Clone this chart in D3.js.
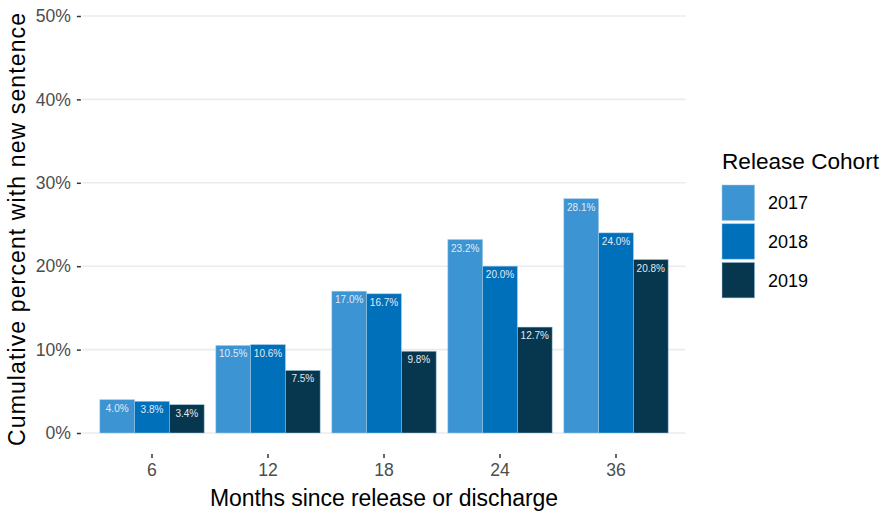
<!DOCTYPE html>
<html>
<head>
<meta charset="utf-8">
<script src="https://cdn.jsdelivr.net/npm/d3@7"></script>
<style>
body{margin:0;background:#fff;}
svg{display:block;font-family:"Liberation Sans",Arial,sans-serif;}
</style>
</head>
<body>
<svg id="chart" width="881" height="512"></svg>
<script>
const months = ["6","12","18","24","36"];
const cohorts = ["2017","2018","2019"];
const values2017 = [4.0,10.5,17.0,23.2,28.1];
const values2018 = [3.8,10.6,16.7,20.0,24.0];
const values2019 = [3.4,7.5,9.8,12.7,20.8];
const yTicks = [0,10,20,30,40,50];
const colors = ["#3D94D3","#0070BA","#07374F"];

const seriesValues = [values2017, values2018, values2019];
const data = [];
months.forEach((m,i)=>cohorts.forEach((c,j)=>data.push({month:m,cohort:c,value:seriesValues[j][i]})));

const svg = d3.select("#chart");
const pLeft = 82.4, pRight = 685.6, pTop = 16, zeroY = 433, panelBottom = 454;

const x = d3.scaleBand().domain(months).range([pLeft,pRight]).paddingInner(0.1).paddingOuter(0.15);
const xs = d3.scaleBand().domain(cohorts).range([0,x.bandwidth()]).padding(0);
const y = d3.scaleLinear().domain([0,50]).range([zeroY,pTop]);
const color = d3.scaleOrdinal().domain(cohorts).range(colors);

// gridlines
svg.append("g").selectAll("line").data(yTicks).join("line")
  .attr("x1",pLeft).attr("x2",pRight)
  .attr("y1",d=>y(d)).attr("y2",d=>y(d))
  .attr("stroke","#EBEBEB").attr("stroke-width",1.6);

// y axis
const yAxis = d3.axisLeft(y).tickValues(yTicks).tickFormat(d=>d+"%").tickSize(4).tickPadding(6);
const ya = svg.append("g").attr("transform",`translate(${pLeft-1.5},0)`).call(yAxis);
ya.select(".domain").remove();
ya.selectAll(".tick line").attr("stroke","#333").attr("stroke-width",1.5);
ya.selectAll(".tick text").attr("fill","#4D4D4D").style("font-size","17.6px").style("font-family","Liberation Sans, Arial, sans-serif");

// x axis
const xAxis = d3.axisBottom(x).tickSize(4).tickPadding(6);
const xa = svg.append("g").attr("transform",`translate(0,${panelBottom})`).call(xAxis);
xa.select(".domain").remove();
xa.selectAll(".tick line").attr("stroke","#333").attr("stroke-width",1.5);
xa.selectAll(".tick text").attr("fill","#4D4D4D").style("font-size","17.6px").style("font-family","Liberation Sans, Arial, sans-serif");

// bars
const groups = svg.append("g").selectAll("g").data(months).join("g")
  .attr("transform",d=>`translate(${x(d)},0)`);
groups.selectAll("rect").data(m=>data.filter(d=>d.month===m)).join("rect")
  .attr("x",d=>xs(d.cohort)).attr("width",xs.bandwidth())
  .attr("y",d=>y(d.value)).attr("height",d=>y(0)-y(d.value))
  .attr("fill",d=>color(d.cohort))
  .attr("stroke","#A9CDE8").attr("stroke-opacity",0.6).attr("stroke-width",0.8);
groups.selectAll("text").data(m=>data.filter(d=>d.month===m)).join("text")
  .attr("x",d=>xs(d.cohort)+xs.bandwidth()/2)
  .attr("y",d=>y(d.value)+12)
  .attr("text-anchor","middle")
  .attr("fill","#E1E9F2")
  .style("font-size","10px")
  .text(d=>d.value.toFixed(1)+"%");

// axis titles
svg.append("text").attr("x",384).attr("y",506).attr("text-anchor","middle")
  .attr("fill","#000").style("font-size","23px")
  .attr("textLength",348).attr("lengthAdjust","spacing")
  .text("Months since release or discharge");
svg.append("text").attr("transform",`translate(24.5,229.5) rotate(-90)`).attr("text-anchor","middle")
  .attr("fill","#000").style("font-size","23px")
  .attr("textLength",433).attr("lengthAdjust","spacing")
  .text("Cumulative percent with new sentence");

// legend
const lg = svg.append("g");
lg.append("text").attr("x",722).attr("y",169).attr("fill","#000").style("font-size","22.6px").text("Release Cohort");
const items = lg.selectAll("g").data(cohorts).join("g").attr("transform",(d,i)=>`translate(722,${185+i*38.7})`);
items.append("rect").attr("width",32.6).attr("height",35.5).attr("fill",d=>color(d))
  .attr("stroke","#A9CDE8").attr("stroke-opacity",0.6).attr("stroke-width",0.8);
items.append("text").attr("x",46).attr("y",18).attr("dy","0.35em").attr("fill","#000").style("font-size","18px").text(d=>d);
</script>
</body>
</html>
